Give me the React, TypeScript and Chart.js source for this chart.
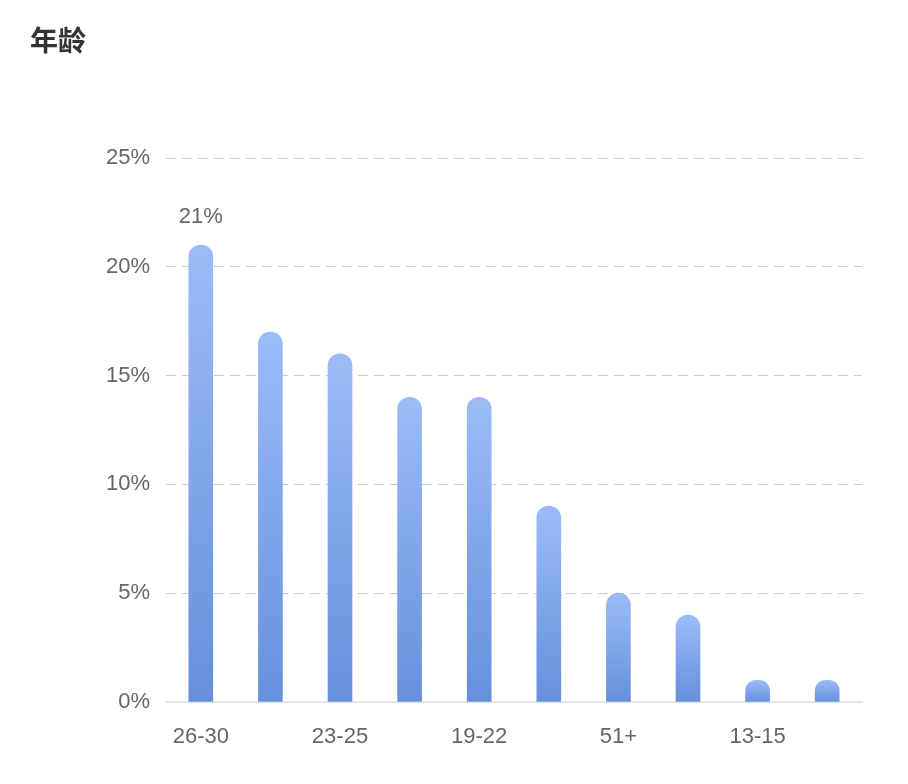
import { useEffect, useRef } from "react";
import { Chart, registerables } from "chart.js";

Chart.register(...registerables);

// Age groups, sorted by share (every other label is shown on the axis)
const ageGroups = ["26-30", "31-35", "23-25", "36-40", "19-22", "41-45", "51+", "46-50", "13-15", "16-18"];
const shares = [21, 17, 16, 14, 14, 9, 5, 4, 1, 1];
const yTicks = [0, 5, 10, 15, 20, 25];
const labelledIndex = 0; // only the first bar carries a value label

const FONT = '"Liberation Sans", Arial, Helvetica, sans-serif';

// Draws "21%" above the labelled bar
const valueLabelPlugin = {
  id: "valueLabel",
  afterDatasetsDraw(chart: Chart) {
    const meta = chart.getDatasetMeta(0);
    const bar = meta.data[labelledIndex];
    if (!bar) return;
    const { ctx } = chart;
    ctx.save();
    ctx.font = `22px ${FONT}`;
    ctx.fillStyle = "#666";
    ctx.textAlign = "center";
    ctx.textBaseline = "middle";
    ctx.fillText(`${shares[labelledIndex]}%`, bar.x, bar.y - 28);
    ctx.restore();
  },
};

export default function App() {
  const canvasRef = useRef<HTMLCanvasElement | null>(null);
  const chartRef = useRef<Chart | null>(null);

  useEffect(() => {
    if (!canvasRef.current) return;
    const ctx = canvasRef.current.getContext("2d");
    if (!ctx) return;

    chartRef.current = new Chart(ctx, {
      type: "bar",
      data: {
        labels: ageGroups,
        datasets: [
          {
            data: shares,
            barThickness: 24,
            borderRadius: 12,
            borderSkipped: "start",
            backgroundColor: (c: any) => {
              const chart = c.chart;
              const y = chart.scales?.y;
              if (!chart.chartArea || !y || c.parsed == null) return "#7fa5ea";
              const top = y.getPixelForValue(c.parsed.y);
              const bottom = y.getPixelForValue(0);
              const g = chart.ctx.createLinearGradient(0, top, 0, bottom);
              g.addColorStop(0, "#9bbcf8");
              g.addColorStop(1, "#6590dc");
              return g;
            },
          },
        ],
      },
      options: {
        responsive: true,
        maintainAspectRatio: false,
        animation: false,
        layout: { padding: { top: 150, right: 38, left: 0, bottom: 0 } },
        plugins: {
          legend: { display: false },
          tooltip: { enabled: false },
        },
        scales: {
          x: {
            grid: { display: false, drawTicks: false },
            border: { display: true, color: "#e6e6e6", width: 2 },
            ticks: {
              autoSkip: false,
              maxRotation: 0,
              padding: 22,
              color: "#666",
              font: { family: FONT, size: 22 },
              callback: (_v: any, i: number) => (i % 2 === 0 ? ageGroups[i] : ""),
            },
            afterFit: (scale: any) => {
              scale.height = 74;
            },
          },
          y: {
            min: yTicks[0],
            max: yTicks[yTicks.length - 1],
            afterBuildTicks: (scale: any) => {
              scale.ticks = yTicks.map((v) => ({ value: v }));
            },
            grid: {
              drawTicks: false,
              color: (c: any) => (c.tick && c.tick.value === 0 ? "rgba(0,0,0,0)" : "#cccccc"),
              lineWidth: 1,
            },
            border: { display: false, dash: [10, 6] },
            ticks: {
              padding: 16,
              color: "#666",
              font: { family: FONT, size: 22 },
              callback: (v: any) => `${v}%`,
            },
            afterFit: (scale: any) => {
              scale.width = 158;
            },
          },
        },
      },
      plugins: [valueLabelPlugin],
    });

    return () => {
      chartRef.current?.destroy();
      chartRef.current = null;
    };
  }, []);

  return (
    <div style={{ position: "relative", width: 892, height: 768, fontFamily: FONT }}>
      <div
        style={{
          position: "absolute",
          left: 22,
          top: 11,
          fontSize: 28,
          fontWeight: "bold",
          color: "#333",
          lineHeight: "40px",
          fontFamily: '"Noto Sans CJK SC", sans-serif',
        }}
      >
        年龄
      </div>
      <canvas ref={canvasRef} />
    </div>
  );
}
